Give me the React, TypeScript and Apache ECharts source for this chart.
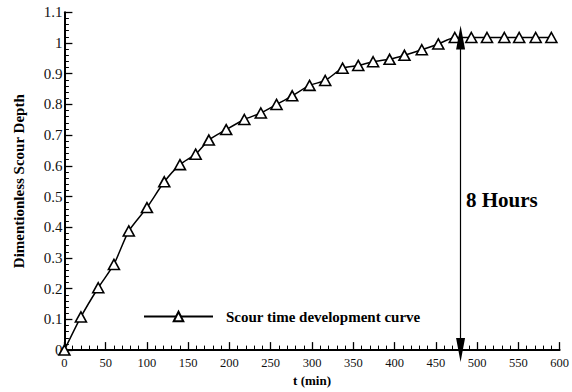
import React, { useEffect, useRef } from "react";
import * as echarts from "echarts";

// Scour depth development measurements: time (min) and dimensionless depth
const timeMin = [0, 20, 41, 60, 78, 100, 121, 140, 159, 175, 196, 218, 238, 257, 276, 297, 316, 337, 356, 374, 394, 412, 433, 453, 473, 493, 512, 533, 551, 571, 590];
const scourDepth = [0, 0.108, 0.203, 0.279, 0.388, 0.464, 0.548, 0.604, 0.638, 0.684, 0.718, 0.751, 0.772, 0.8, 0.828, 0.862, 0.878, 0.918, 0.927, 0.939, 0.947, 0.96, 0.978, 0.997, 1.018, 1.018, 1.018, 1.018, 1.018, 1.018, 1.018];

// Equilibrium marker: 8 hours = 480 min
const equilibriumTime = 480;
const equilibriumDepth = 1.018;
const equilibriumLabel = "8 Hours";
const seriesName = "Scour time development curve";

const SERIF = "Liberation Serif";

export default function App() {
  const ref = useRef<HTMLDivElement>(null);

  useEffect(() => {
    if (!ref.current) return;
    const chart = echarts.init(ref.current, null, { renderer: "svg" });

    const points = timeMin.map((t, i) => [t, scourDepth[i]]);

    const axisCommon = {
      axisLine: { show: true, onZero: false, lineStyle: { color: "#000", width: 2 } },
      axisTick: { show: true, inside: true, length: 8, lineStyle: { color: "#000", width: 1.3 } },
      minorTick: { show: true, splitNumber: 5, length: 4.5, lineStyle: { color: "#000", width: 1 } },
      splitLine: { show: false },
      minorSplitLine: { show: false },
    };

    chart.setOption({
      animation: false,
      backgroundColor: "#fff",
      grid: { left: 64.4, right: 12, top: 12.3, bottom: 32, containLabel: false },
      xAxis: {
        type: "value",
        min: 0,
        max: 600,
        interval: 50,
        name: "t (min)",
        nameLocation: "middle",
        nameGap: 13,
        nameTextStyle: { fontFamily: SERIF, fontWeight: "bold", fontSize: 13, color: "#000" },
        axisLabel: { fontFamily: SERIF, fontSize: 12.5, color: "#111", margin: 6 },
        ...axisCommon,
      },
      yAxis: {
        type: "value",
        min: 0,
        max: 1.1,
        interval: 0.1,
        name: "Dimentionless Scour Depth",
        nameLocation: "middle",
        nameRotate: 90,
        nameGap: 38,
        nameTextStyle: { fontFamily: SERIF, fontWeight: "bold", fontSize: 15, color: "#000" },
        axisLabel: { fontFamily: SERIF, fontSize: 15, color: "#111", margin: 2 },
        ...axisCommon,
      },
      legend: {
        show: true,
        left: 143,
        top: 309,
        padding: 0,
        itemWidth: 69,
        itemHeight: 12,
        data: [seriesName],
        textStyle: { fontFamily: SERIF, fontWeight: "bold", fontSize: 15, color: "#000", padding: [0, 0, 0, 8] },
      },
      series: [
        {
          name: seriesName,
          type: "line",
          data: points,
          smooth: 0.2,
          symbol: "triangle",
          symbolSize: [11, 10],
          showAllSymbol: true,
          lineStyle: { color: "#000", width: 1.5 },
          itemStyle: { color: "#fff", borderColor: "#000", borderWidth: 1.6 },
          z: 3,
        },
        {
          name: "equilibrium",
          type: "line",
          data: [],
          silent: true,
          markLine: {
            silent: true,
            symbol: ["triangle", "triangle"],
            symbolSize: [9, 24],
            label: { show: false },
            lineStyle: { color: "#000", width: 1.2, type: "solid" },
            emphasis: { disabled: true },
            data: [[{ coord: [equilibriumTime, 0] }, { coord: [equilibriumTime, equilibriumDepth] }]],
          },
        },
      ],
      graphic: [
        {
          type: "text",
          left: 466,
          top: 189,
          style: {
            text: equilibriumLabel,
            fontFamily: SERIF,
            fontWeight: "bold",
            fontSize: 21,
            fill: "#000",
          },
        },
      ],
    });

    return () => chart.dispose();
  }, []);

  return <div ref={ref} style={{ width: 572, height: 392, position: "absolute", left: 0, top: 0 }} />;
}
